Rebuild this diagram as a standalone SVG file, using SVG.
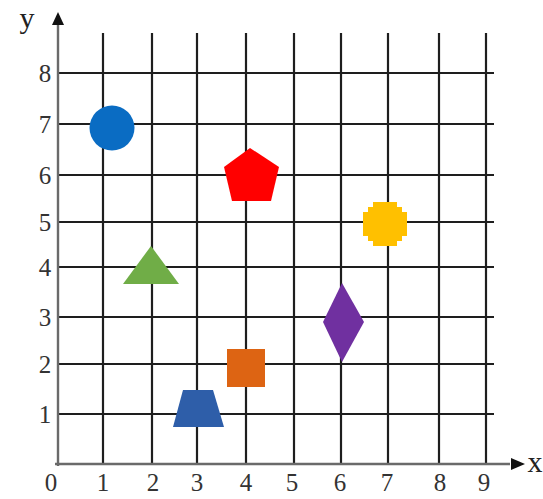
<svg xmlns="http://www.w3.org/2000/svg" width="543" height="499" viewBox="0 0 543 499">
<style>
.grid line{stroke:#1e1e1e;stroke-width:2.2}
.axis{stroke:#6a6a6a;stroke-width:2.4}
.lbl{font-family:"Liberation Serif",serif;font-size:25px;fill:#333;text-anchor:middle}
.ax{font-family:"Liberation Serif",serif;font-size:30px;fill:#222;text-anchor:middle}
</style>
<rect width="543" height="499" fill="#fff"/>
<g id="grid" class="grid">
<line x1="103" y1="33" x2="103" y2="464"/>
<line x1="152" y1="33" x2="152" y2="464"/>
<line x1="197" y1="33" x2="197" y2="464"/>
<line x1="246" y1="33" x2="246" y2="464"/>
<line x1="294" y1="33" x2="294" y2="464"/>
<line x1="341" y1="33" x2="341" y2="464"/>
<line x1="388" y1="33" x2="388" y2="464"/>
<line x1="439" y1="33" x2="439" y2="464"/>
<line x1="486" y1="33" x2="486" y2="464"/>
<line x1="58" y1="73" x2="494" y2="73"/>
<line x1="58" y1="124" x2="494" y2="124"/>
<line x1="58" y1="175" x2="494" y2="175"/>
<line x1="58" y1="222" x2="494" y2="222"/>
<line x1="58" y1="267" x2="494" y2="267"/>
<line x1="58" y1="317" x2="494" y2="317"/>
<line x1="58" y1="364" x2="494" y2="364"/>
<line x1="58" y1="414" x2="494" y2="414"/>
</g>
<g id="axes">
<line class="axis" x1="58" y1="466" x2="58" y2="22"/>
<polygon points="58,12 52,25 64,25" fill="#111"/>
<line class="axis" x1="55" y1="464" x2="510" y2="464"/>
<polygon points="525,464 511,458 511,470" fill="#111"/>
<text class="ax" x="27" y="28">y</text>
<text class="ax" x="535" y="472">x</text>
</g>
<g id="labels">
<text class="lbl" x="45" y="82">8</text>
<text class="lbl" x="45" y="133">7</text>
<text class="lbl" x="45" y="184">6</text>
<text class="lbl" x="45" y="231">5</text>
<text class="lbl" x="45" y="276">4</text>
<text class="lbl" x="45" y="326">3</text>
<text class="lbl" x="45" y="373">2</text>
<text class="lbl" x="45" y="423">1</text>
<text class="lbl" x="51" y="491">0</text>
<text class="lbl" x="103" y="491">1</text>
<text class="lbl" x="153" y="491">2</text>
<text class="lbl" x="197" y="491">3</text>
<text class="lbl" x="246" y="491">4</text>
<text class="lbl" x="292" y="491">5</text>
<text class="lbl" x="340" y="491">6</text>
<text class="lbl" x="387" y="491">7</text>
<text class="lbl" x="440" y="491">8</text>
<text class="lbl" x="484" y="491">9</text>
</g>
<g id="circle"><circle cx="112" cy="128" r="22.5" fill="#0a6cc3"/></g>
<g id="pentagon"><polygon points="250,148 279,167 271,201 232,201 224,167" fill="#ff0000"/></g>
<g id="triangle"><polygon points="151,246 179,284 123,284" fill="#70ad47"/></g>
<g id="cross"><polygon points="373,202 397,202 397,207 402,207 402,212 407,212 407,236 402,236 402,241 397,241 397,246 373,246 373,241 368,241 368,236 363,236 363,212 368,212 368,207 373,207" fill="#ffc000"/></g>
<g id="diamond"><polygon points="342,283 364,322 342,362 323,322" fill="#7030a0"/></g>
<g id="square"><rect x="227" y="349" width="38" height="38" fill="#dd6413"/></g>
<g id="trapezoid"><polygon points="183,390 213,390 224,427 173,427" fill="#2e5ea9"/></g>
</svg>
